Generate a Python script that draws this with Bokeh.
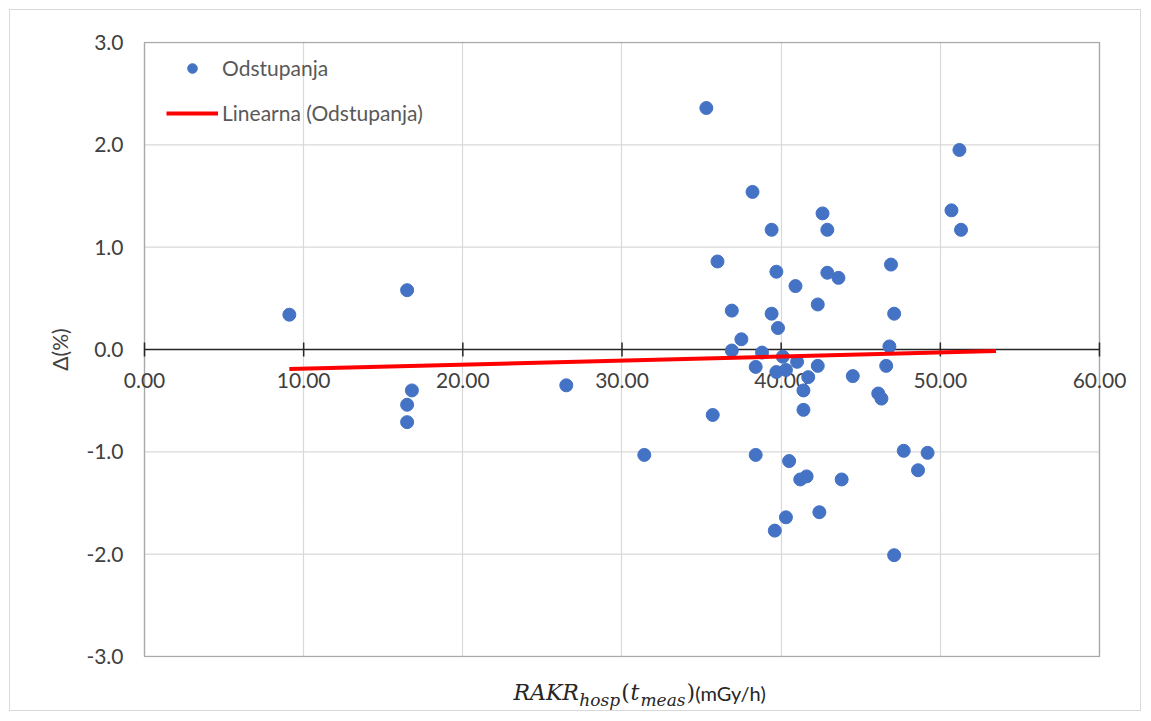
import numpy as np
from bokeh.plotting import figure
from bokeh.layouts import column
from bokeh.models import (Range1d, FixedTicker, PrintfTickFormatter, Legend, LegendItem,
                          LabelSet, ColumnDataSource, BoxAnnotation)
from bokeh.core.properties import value
from bokeh.embed import file_html
from bokeh.resources import INLINE

# ---- data ----
x_vals = [9.1, 16.5, 16.8, 16.5, 16.5, 26.5, 31.4, 35.3, 35.7, 36.0,
          36.9, 36.9, 37.5, 38.2, 38.4, 38.4, 38.8, 39.4, 39.4, 39.6,
          39.7, 39.8, 39.7, 40.1, 40.3, 40.3, 40.5, 40.9, 41.0, 41.2,
          41.4, 41.4, 41.6, 41.7, 42.3, 42.3, 42.4, 42.6, 42.9, 42.9,
          43.6, 43.8, 44.5, 46.1, 46.3, 46.6, 46.8, 46.9, 47.1, 47.1,
          47.7, 48.6, 49.2, 50.7, 51.2, 51.3]
y_vals = [0.34, 0.58, -0.40, -0.54, -0.71, -0.35, -1.03, 2.36, -0.64, 0.86,
          0.38, -0.01, 0.10, 1.54, -0.17, -1.03, -0.03, 1.17, 0.35, -1.77,
          0.76, 0.21, -0.22, -0.07, -0.20, -1.64, -1.09, 0.62, -0.12, -1.27,
          -0.40, -0.59, -1.24, -0.27, 0.44, -0.16, -1.59, 1.33, 1.17, 0.75,
          0.70, -1.27, -0.26, -0.43, -0.48, -0.16, 0.03, 0.83, 0.35, -2.01,
          -0.99, -1.18, -1.01, 1.36, 1.95, 1.17]
trend_end_x = 53.5
x_ticks = [0, 10, 20, 30, 40, 50, 60]
y_ticks = [-3, -2, -1, 0, 1, 2, 3]
series_name = "Odstupanja"
trend_name = "Linearna (Odstupanja)"

FONT = "Lato"
MATH = "DejaVu Serif"
TICK_COLOR = "#404040"
FRAME_COLOR = "#3a3a3a"
GRID_COLOR = "#d9d9d9"

W = 1130
BL, BR = 113, 13   # side borders; x range is padded so end tick labels are not cut

p = figure(width=W, height=661, output_backend="svg", toolbar_location=None,
           x_range=Range1d(-1.32, 61.76), y_range=Range1d(-3.01, 3.01),
           min_border_left=BL, min_border_right=BR, min_border_top=31, min_border_bottom=14)
p.outline_line_color = None
p.xaxis.visible = False

# grid: vertical lines from the grid, horizontal lines limited to the axis box
p.xgrid.ticker = FixedTicker(ticks=x_ticks)
p.xgrid.grid_line_color = GRID_COLOR
p.xgrid.grid_line_width = 1.2
p.ygrid.visible = False
p.segment(x0=[x_ticks[0]] * len(y_ticks), x1=[x_ticks[-1]] * len(y_ticks),
          y0=y_ticks, y1=y_ticks, line_color=GRID_COLOR, line_width=1.2, level="underlay")

# plot-area box
p.add_layout(BoxAnnotation(left=x_ticks[0], right=x_ticks[-1], bottom=y_ticks[0], top=y_ticks[-1],
                           fill_alpha=0, line_color=FRAME_COLOR, line_width=1.5, level="underlay"))

# horizontal axis crossing at y = 0
p.segment(x0=[x_ticks[0]], x1=[x_ticks[-1]], y0=[0], y1=[0], line_color="#262626", line_width=1.5)
p.scatter(x_ticks, [0] * len(x_ticks), marker="dash", angle=np.pi / 2, size=14,
          line_color="#262626", line_width=1.5)
tick_src = ColumnDataSource(dict(x=x_ticks, y=[0] * len(x_ticks),
                                 t=["%.2f" % v for v in x_ticks]))
p.add_layout(LabelSet(x="x", y="y", text="t", source=tick_src, y_offset=-31,
                      text_align="center", text_baseline="middle", level="underlay",
                      text_font=value(FONT), text_font_size="21px", text_color=TICK_COLOR))

# vertical axis
ya = p.yaxis[0]
ya.ticker = FixedTicker(ticks=y_ticks)
ya.formatter = PrintfTickFormatter(format="%.1f")
ya.axis_line_color = None
ya.major_tick_line_color = None
ya.minor_tick_line_color = None
ya.major_label_standoff = -6
ya.major_label_text_font = FONT
ya.major_label_text_font_size = "21px"
ya.major_label_text_color = TICK_COLOR
ya.axis_label = "Δ(%)"
ya.axis_label_text_font = FONT
ya.axis_label_text_font_size = "21px"
ya.axis_label_text_font_style = "normal"
ya.axis_label_text_color = TICK_COLOR
ya.axis_label_standoff = 11

pts = p.scatter(x_vals, y_vals, size=13, color="#4472c4")

coef = np.polyfit(np.array(x_vals), np.array(y_vals), 1)
tx = [min(x_vals), trend_end_x]
ty = list(np.polyval(coef, tx))
tr = p.line(tx, ty, line_color="#ff0000", line_width=4)

legend = Legend(items=[LegendItem(label=series_name, renderers=[pts]),
                       LegendItem(label=trend_name, renderers=[tr])],
                location=(43, 532), margin=0, padding=0, spacing=20,
                glyph_width=52, glyph_height=24, label_height=24, label_standoff=4,
                label_text_font=FONT, label_text_font_size="21px",
                label_text_color="#595959",
                border_line_color=None, background_fill_alpha=0)
p.add_layout(legend)

# x-axis title strip (shares the x scale of the chart)
p2 = figure(width=W, height=39, output_backend="svg", toolbar_location=None,
            x_range=p.x_range, y_range=Range1d(0, 1),
            min_border_left=BL, min_border_right=BR, min_border_top=0, min_border_bottom=0)
p2.axis.visible = False
p2.grid.visible = False
p2.outline_line_color = None
pieces = [
    ("RAKR", 23.18, 0.46, MATH, "22px", "italic"),
    ("hosp", 27.32, 0.28, MATH, "17px", "italic"),
    ("(", 29.96, 0.46, MATH, "22px", "normal"),
    ("t", 30.53, 0.46, MATH, "22px", "italic"),
    ("meas", 31.16, 0.28, MATH, "17px", "italic"),
    (")", 34.05, 0.46, MATH, "22px", "normal"),
    ("(mGy/h)", 34.61, 0.46, FONT, "20px", "normal"),
]
for txt, lx, ly, fnt, fs, st in pieces:
    p2.text(x=[lx], y=[ly], text=[txt], text_font=value(fnt), text_font_size=fs,
            text_font_style=st, text_color="#262626", text_baseline="alphabetic")

lay = column(p, p2, spacing=0)
lay.styles = {"border": "1px solid #d9d9d9", "margin": "9px 0 0 9px"}

open("out.html", "w").write(file_html(lay, INLINE))
